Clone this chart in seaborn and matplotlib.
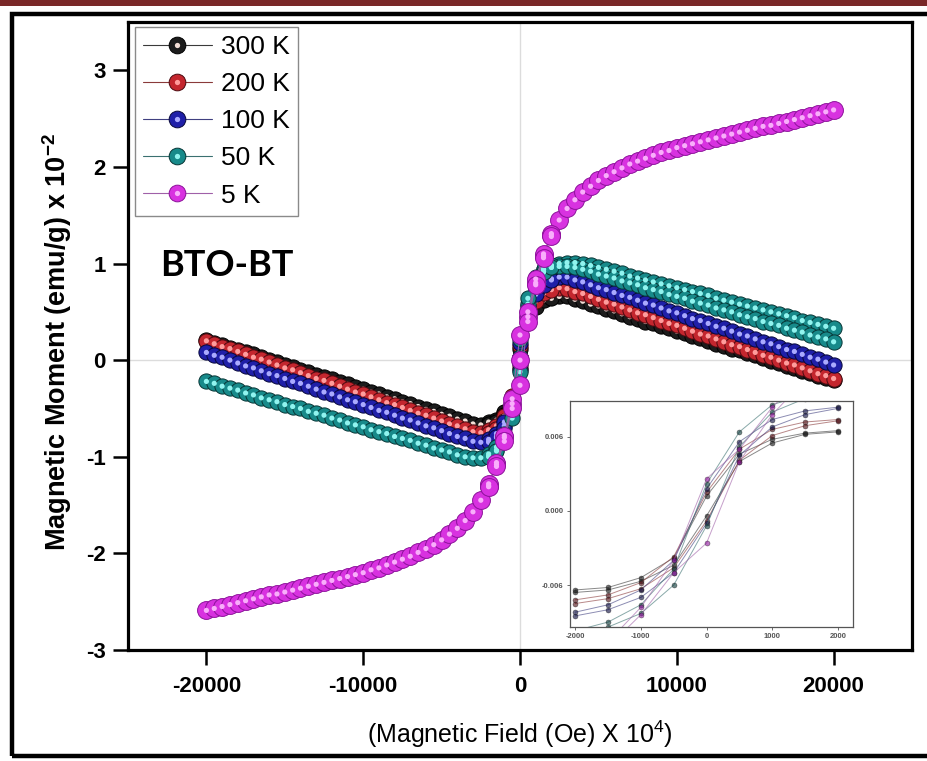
import matplotlib
matplotlib.use("Agg")
import matplotlib.pyplot as plt
from matplotlib.lines import Line2D
from matplotlib.legend_handler import HandlerTuple
from matplotlib.patches import Rectangle
import pandas as pd
import seaborn as sns

# ---- field sweep (Oe) ----
FIELD = [-20000, -19500, -19000, -18500, -18000, -17500, -17000, -16500, -16000, -15500,
         -15000, -14500, -14000, -13500, -13000, -12500, -12000, -11500, -11000, -10500,
         -10000, -9500, -9000, -8500, -8000, -7500, -7000, -6500, -6000, -5500,
         -5000, -4500, -4000, -3500, -3000, -2500, -2000, -1500, -1000, -500,
         0, 500, 1000, 1500, 2000, 2500, 3000, 3500, 4000, 4500,
         5000, 5500, 6000, 6500, 7000, 7500, 8000, 8500, 9000, 9500,
         10000, 10500, 11000, 11500, 12000, 12500, 13000, 13500, 14000, 14500,
         15000, 15500, 16000, 16500, 17000, 17500, 18000, 18500, 19000, 19500, 20000]

# ---- magnetic moment (x 1e-2 emu/g) ----
M_300K = [0.21, 0.18, 0.16, 0.13, 0.11, 0.08, 0.06, 0.03, 0.00, -0.02,
          -0.05, -0.07, -0.10, -0.12, -0.15, -0.17, -0.20, -0.23, -0.25, -0.28,
          -0.30, -0.33, -0.35, -0.38, -0.40, -0.43, -0.45, -0.48, -0.51, -0.53,
          -0.56, -0.58, -0.61, -0.63, -0.66, -0.67, -0.66, -0.63, -0.55, -0.40,
          0.02, 0.42, 0.57, 0.63, 0.65, 0.66, 0.66, 0.63, 0.61, 0.58,
          0.56, 0.53, 0.51, 0.48, 0.45, 0.43, 0.40, 0.38, 0.35, 0.33,
          0.30, 0.28, 0.25, 0.23, 0.20, 0.17, 0.15, 0.12, 0.10, 0.07,
          0.05, 0.02, -0.01, -0.03, -0.06, -0.08, -0.11, -0.13, -0.16, -0.18, -0.21]

M_200K = [0.20, 0.17, 0.14, 0.12, 0.09, 0.06, 0.03, 0.01, -0.02, -0.05,
          -0.08, -0.10, -0.13, -0.16, -0.19, -0.21, -0.24, -0.27, -0.30, -0.33,
          -0.35, -0.38, -0.41, -0.44, -0.46, -0.49, -0.52, -0.55, -0.57, -0.60,
          -0.63, -0.66, -0.68, -0.71, -0.74, -0.75, -0.74, -0.70, -0.61, -0.42,
          0.03, 0.45, 0.63, 0.71, 0.74, 0.75, 0.74, 0.71, 0.69, 0.66,
          0.63, 0.60, 0.58, 0.55, 0.52, 0.49, 0.47, 0.44, 0.41, 0.38,
          0.36, 0.33, 0.30, 0.27, 0.25, 0.22, 0.19, 0.16, 0.14, 0.11,
          0.08, 0.05, 0.03, 0.00, -0.03, -0.05, -0.08, -0.11, -0.14, -0.16, -0.19]

M_100K = [0.08, 0.05, 0.03, 0.00, -0.03, -0.06, -0.08, -0.11, -0.14, -0.16,
          -0.19, -0.22, -0.24, -0.27, -0.30, -0.33, -0.35, -0.38, -0.41, -0.43,
          -0.46, -0.49, -0.52, -0.54, -0.57, -0.60, -0.62, -0.65, -0.68, -0.70,
          -0.73, -0.76, -0.79, -0.81, -0.84, -0.85, -0.84, -0.79, -0.68, -0.46,
          0.03, 0.50, 0.71, 0.80, 0.84, 0.86, 0.86, 0.83, 0.81, 0.78,
          0.75, 0.73, 0.70, 0.67, 0.65, 0.62, 0.59, 0.57, 0.54, 0.51,
          0.49, 0.46, 0.43, 0.41, 0.38, 0.35, 0.33, 0.30, 0.27, 0.25,
          0.22, 0.19, 0.17, 0.14, 0.11, 0.09, 0.06, 0.03, 0.01, -0.02, -0.05]

M_50K = [-0.22, -0.24, -0.27, -0.29, -0.31, -0.34, -0.36, -0.39, -0.41, -0.43,
         -0.46, -0.48, -0.50, -0.53, -0.55, -0.57, -0.60, -0.62, -0.65, -0.67,
         -0.69, -0.72, -0.74, -0.76, -0.79, -0.81, -0.83, -0.86, -0.88, -0.91,
         -0.93, -0.95, -0.98, -1.00, -1.01, -1.01, -0.99, -0.93, -0.80, -0.53,
         0.03, 0.58, 0.84, 0.94, 0.98, 1.00, 1.01, 1.01, 1.00, 0.98,
         0.96, 0.94, 0.92, 0.90, 0.87, 0.85, 0.83, 0.81, 0.79, 0.77,
         0.75, 0.73, 0.71, 0.69, 0.67, 0.64, 0.62, 0.60, 0.58, 0.56,
         0.54, 0.52, 0.50, 0.48, 0.46, 0.44, 0.41, 0.39, 0.37, 0.35, 0.33]

# 50 K return sweep on the positive-field side
FIELD_POS = FIELD[40:]
M_50K_RETURN = [-0.02, 0.52, 0.80, 0.92, 0.96, 0.97, 0.97, 0.96, 0.94, 0.92,
                0.89, 0.87, 0.85, 0.82, 0.80, 0.78, 0.75, 0.73, 0.71, 0.68,
                0.66, 0.64, 0.61, 0.59, 0.57, 0.54, 0.52, 0.50, 0.47, 0.45,
                0.43, 0.40, 0.38, 0.36, 0.33, 0.31, 0.29, 0.26, 0.24, 0.22, 0.19]

M_5K = [-2.59, -2.57, -2.55, -2.53, -2.51, -2.49, -2.47, -2.45, -2.43, -2.42,
        -2.40, -2.38, -2.36, -2.34, -2.32, -2.30, -2.28, -2.26, -2.24, -2.22,
        -2.20, -2.17, -2.15, -2.12, -2.09, -2.06, -2.03, -1.99, -1.95, -1.91,
        -1.86, -1.80, -1.74, -1.66, -1.57, -1.45, -1.30, -1.08, -0.80, -0.45,
        0.00, 0.45, 0.80, 1.08, 1.30, 1.45, 1.57, 1.66, 1.74, 1.80,
        1.86, 1.91, 1.95, 1.99, 2.03, 2.06, 2.09, 2.12, 2.15, 2.17,
        2.20, 2.22, 2.24, 2.26, 2.28, 2.30, 2.32, 2.34, 2.36, 2.38,
        2.40, 2.42, 2.43, 2.45, 2.47, 2.49, 2.51, 2.53, 2.55, 2.57, 2.59]

# ---- low-field loop (emu/g), both branches ----
LOOP_FIELD = [-2000, -1500, -1000, -500, 0, 500, 1000, 1500, 2000]
LOOP_300K_DOWN = [-0.0064, -0.0062, -0.0054, -0.0038, 0.0012, 0.0046, 0.0058, 0.0063, 0.0065]
LOOP_300K_UP = [-0.0066, -0.0064, -0.0057, -0.0044, -0.0004, 0.0040, 0.0055, 0.0062, 0.0064]
LOOP_200K_DOWN = [-0.0072, -0.0068, -0.0058, -0.0037, 0.0015, 0.0050, 0.0066, 0.0072, 0.0074]
LOOP_200K_UP = [-0.0075, -0.0071, -0.0063, -0.0046, -0.0008, 0.0041, 0.0061, 0.0069, 0.0073]
LOOP_100K_DOWN = [-0.0082, -0.0076, -0.0064, -0.0040, 0.0018, 0.0056, 0.0074, 0.0081, 0.0084]
LOOP_100K_UP = [-0.0085, -0.0080, -0.0070, -0.0050, -0.0010, 0.0045, 0.0068, 0.0078, 0.0083]
LOOP_50K_DOWN = [-0.0097, -0.0090, -0.0076, -0.0047, 0.0022, 0.0064, 0.0086, 0.0094, 0.0098]
LOOP_50K_UP = [-0.0100, -0.0094, -0.0083, -0.0060, -0.0012, 0.0052, 0.0080, 0.0091, 0.0096]
LOOP_5K_DOWN = [-0.0128, -0.0106, -0.0078, -0.0040, 0.0026, 0.0050, 0.0084, 0.0110, 0.0131]
LOOP_5K_UP = [-0.0131, -0.0110, -0.0084, -0.0050, -0.0026, 0.0040, 0.0078, 0.0106, 0.0128]

LABELS = ["300 K", "200 K", "100 K", "50 K", "5 K"]
XTICKS = [-20000, -10000, 0, 10000, 20000]
YTICKS = [-3, -2, -1, 0, 1, 2, 3]
INSET_XTICKS = [-2000, -1000, 0, 1000, 2000]
INSET_YTICKS = [-0.006, 0.0, 0.006]
INSET_YTICK_LABELS = ["-0.006", "0.000", "0.006"]

sweeps = {
    "300 K": [(FIELD, M_300K)],
    "200 K": [(FIELD, M_200K)],
    "100 K": [(FIELD, M_100K)],
    "50 K": [(FIELD, M_50K), (FIELD_POS, M_50K_RETURN)],
    "5 K": [(FIELD, M_5K)],
}
loops = {
    "300 K": (LOOP_300K_DOWN, LOOP_300K_UP),
    "200 K": (LOOP_200K_DOWN, LOOP_200K_UP),
    "100 K": (LOOP_100K_DOWN, LOOP_100K_UP),
    "50 K": (LOOP_50K_DOWN, LOOP_50K_UP),
    "5 K": (LOOP_5K_DOWN, LOOP_5K_UP),
}
# body, edge, highlight, line, marker area
styles = {
    "300 K": ("#1c1c1c", "#000000", "#f3ded6", "#3a3a3a", 120),
    "200 K": ("#c4262e", "#4a0a10", "#ff9c9c", "#8a3a3a", 120),
    "100 K": ("#1f1fa8", "#08083a", "#aaaaff", "#404080", 120),
    "50 K": ("#178a8a", "#073535", "#90f4ef", "#3a7070", 120),
    "5 K": ("#d832e0", "#8c129a", "#f9aefb", "#a060a8", 165),
}

sns.set_style("ticks")
plt.rcParams.update({
    "font.family": ["Liberation Sans", "DejaVu Sans"],
    "axes.unicode_minus": False,
    "mathtext.fontset": "custom",
    "mathtext.rm": "Liberation Sans",
    "mathtext.bf": "Liberation Sans:bold",
    "text.color": "black",
    "axes.labelcolor": "black",
    "xtick.color": "black",
    "ytick.color": "black",
})

W, H = 927, 761
fig = plt.figure(figsize=(W / 100, H / 100), dpi=100)
fig.patch.set_facecolor("white")

# page decorations: maroon band and black frame
fig.add_artist(Rectangle((0, 1 - 6 / H), 1, 6 / H, transform=fig.transFigure,
                         facecolor="#7a2828", edgecolor="none"))
fig.add_artist(Rectangle((12 / W, 5 / H), (940 - 12) / W, (756 - 14) / H,
                         transform=fig.transFigure, facecolor="none",
                         edgecolor="black", linewidth=3.2))

ax = fig.add_axes([128 / W, 1 - 650 / H, 784 / W, 628 / H])
ax.set_facecolor("white")
ax.axvline(0, color="#dcdcdc", lw=1.0, zorder=0)
ax.axhline(0, color="#dcdcdc", lw=1.0, zorder=0)

for i, lab in enumerate(LABELS):
    body, edge, hl, line_c, size = styles[lab]
    z = 3 + 3 * i
    frames = [pd.DataFrame({"field": f, "moment": m}) for f, m in sweeps[lab]]
    down, up = loops[lab]
    frames.append(pd.DataFrame({"field": LOOP_FIELD, "moment": [v * 100 for v in down]}))
    frames.append(pd.DataFrame({"field": LOOP_FIELD, "moment": [v * 100 for v in up]}))
    for fr in frames:
        sns.lineplot(data=fr, x="field", y="moment", sort=False, estimator=None,
                     color=line_c, lw=0.7, ax=ax, zorder=z)
    pts = pd.concat(frames, ignore_index=True)
    sns.scatterplot(data=pts, x="field", y="moment", s=size, color=body,
                    edgecolor=edge, linewidth=0.7, ax=ax, zorder=z + 1, legend=False)
    sns.scatterplot(data=pts, x="field", y="moment", s=14, color=hl,
                    edgecolor="none", linewidth=0, ax=ax, zorder=z + 2, legend=False)

ax.set_xlim(-25000, 25000)
ax.set_ylim(-3, 3.5)
ax.set_xticks(XTICKS)
ax.set_xticklabels([str(t) for t in XTICKS], fontweight="bold", fontsize=16)
ax.set_yticks(YTICKS)
ax.set_yticklabels([str(t) for t in YTICKS], fontweight="bold", fontsize=16)
ax.tick_params(direction="out", length=11, width=1.8, colors="black")
ax.tick_params(axis="x", pad=8)
ax.tick_params(axis="y", pad=5)
for sp in ax.spines.values():
    sp.set_linewidth(2.3)
    sp.set_color("black")
    sp.set_visible(True)

ax.set_xlabel(r"(Magnetic Field (Oe) X 10$^{4}$)", fontsize=18)
ax.xaxis.label.set_va("center")
ax.xaxis.set_label_coords(0.5, -0.135)
ax.set_ylabel(r"Magnetic Moment (emu/g) x 10$^{\mathbf{-2}}$", fontsize=19.5, fontweight="bold")
ax.yaxis.label.set_va("center")
ax.yaxis.set_label_coords(-0.09, 0.49)

ax.text(0.041, 0.613, "BTO-BT", transform=ax.transAxes, fontsize=26,
        fontweight="bold", family=["Lato", "DejaVu Sans"], va="center", ha="left")

handles = []
for lab in LABELS:
    body, edge, hl, line_c, size = styles[lab]
    handles.append((
        Line2D([], [], color=line_c, lw=0.8, marker="o", markersize=12,
               markerfacecolor=body, markeredgecolor=edge, markeredgewidth=0.7),
        Line2D([], [], ls="none", marker="o", markersize=3.8,
               markerfacecolor=hl, markeredgecolor="none"),
    ))
leg = ax.legend(handles, LABELS, handler_map={tuple: HandlerTuple(ndivide=1)},
                loc="upper left", bbox_to_anchor=(7 / 784, 1 - 5 / 628),
                borderaxespad=0, frameon=True, fancybox=False, framealpha=1,
                edgecolor="#8a8a8a", prop={"size": 19}, handlelength=2.6,
                handletextpad=0.35, labelspacing=0.5, borderpad=0.3)
leg.get_frame().set_linewidth(1.0)
leg.set_zorder(30)

# low-field inset
axi = fig.add_axes([570 / W, 1 - 627 / H, 283 / W, 226 / H])
axi.set_facecolor("white")
axi.set_zorder(40)
for i, lab in enumerate(LABELS):
    body, edge, hl, line_c, size = styles[lab]
    for branch in loops[lab]:
        sns.lineplot(x=LOOP_FIELD, y=branch, estimator=None, sort=False,
                     color=line_c, lw=0.7, alpha=0.6, marker="o", markersize=3.6,
                     markerfacecolor=edge if lab != "300 K" else "#111111",
                     markeredgecolor="#222222", markeredgewidth=0.4, ax=axi)
axi.set_xlim(-2080, 2230)
axi.set_ylim(-0.0094, 0.0089)
axi.set_xticks(INSET_XTICKS)
axi.set_xticklabels([str(t) for t in INSET_XTICKS], fontsize=5.5, fontweight="bold", color="#444444")
axi.set_yticks(INSET_YTICKS)
axi.set_yticklabels(INSET_YTICK_LABELS, fontsize=5.5, fontweight="bold", color="#444444")
axi.tick_params(direction="out", length=2.5, width=0.6, pad=2, colors="#555555")
for sp in axi.spines.values():
    sp.set_linewidth(0.9)
    sp.set_color("#555555")
axi.set_xlabel("")
axi.set_ylabel("")

fig.savefig("out.png", dpi=100)
